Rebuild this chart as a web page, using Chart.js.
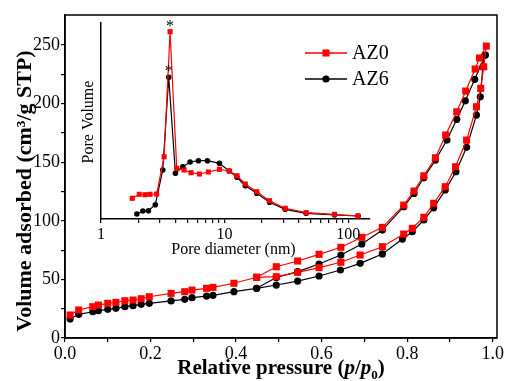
<!DOCTYPE html>
<html>
<head>
<meta charset="utf-8">
<script src="https://cdn.jsdelivr.net/npm/chart.js@4.4.0/dist/chart.umd.min.js"></script>
<style>
  html, body { margin: 0; padding: 0; background: #fff; }
  #wrap { position: relative; width: 505px; height: 381px; }
  #wrap canvas { position: absolute; left: 0; top: 0; }
</style>
</head>
<body>
<div id="wrap">
  <canvas id="isotherm" width="505" height="381"></canvas>
  <canvas id="poreSize" width="505" height="381"></canvas>
</div>
<script>
// N2 isotherms: adsorption branch (low -> high p/p0), then desorption branch back down
var az0AdsP = [0.012, 0.032, 0.065, 0.078, 0.100, 0.119, 0.140, 0.159, 0.178, 0.197, 0.248, 0.280, 0.297, 0.331, 0.346, 0.395, 0.448,
               0.494, 0.544, 0.594, 0.645, 0.690, 0.742, 0.792, 0.812, 0.839, 0.862, 0.889, 0.913, 0.939, 0.962, 0.972, 0.979, 0.985];
var az0AdsV = [19.6, 23.9, 26.7, 28.1, 29.6, 30.4, 31.8, 32.4, 33.5, 35.2, 38.1, 39.5, 40.9, 42.4, 43.2, 46.7, 51.8,
               52.3, 56.0, 60.0, 64.6, 70.8, 77.9, 88.7, 93.6, 103.0, 114.9, 129.1, 146.1, 168.9, 197.3, 213.0, 231.4, 249.1];
var az0DesP = [0.969, 0.959, 0.937, 0.916, 0.890, 0.866, 0.839, 0.816, 0.792, 0.742, 0.694, 0.645, 0.594, 0.544, 0.494, 0.448];
var az0DesV = [238.9, 229.5, 210.7, 193.0, 173.2, 153.8, 138.4, 125.4, 113.4, 94.4, 85.9, 77.4, 71.4, 65.7, 60.8, 51.8];

var az6AdsP = [0.012, 0.032, 0.065, 0.078, 0.100, 0.119, 0.140, 0.159, 0.178, 0.197, 0.248, 0.280, 0.297, 0.331, 0.346, 0.395, 0.448,
               0.494, 0.544, 0.594, 0.644, 0.690, 0.742, 0.789, 0.812, 0.839, 0.862, 0.889, 0.914, 0.939, 0.962, 0.971, 0.977, 0.983];
var az6AdsV = [16.2, 20.2, 22.4, 23.3, 24.5, 25.3, 26.7, 27.6, 28.7, 29.6, 31.6, 33.0, 34.4, 35.8, 36.4, 39.5, 42.4,
               45.2, 48.6, 52.9, 58.0, 63.7, 71.7, 84.4, 90.7, 100.7, 111.1, 126.2, 141.9, 162.7, 190.2, 205.8, 231.4, 241.4];
var az6DesP = [0.958, 0.936, 0.916, 0.893, 0.866, 0.839, 0.816, 0.792, 0.742, 0.694, 0.645, 0.594, 0.544, 0.494, 0.448];
var az6DesV = [220.7, 202.4, 186.6, 168.9, 151.8, 136.7, 123.4, 112.0, 92.1, 80.2, 70.8, 63.1, 56.6, 51.6, 42.4];

// BJH pore size distribution (arbitrary units)
var az0PoreD = [1.79, 2.04, 2.27, 2.49, 2.82, 3.24, 3.62, 4.10, 4.70, 5.35, 6.25, 7.39, 9.08, 10.9, 12.6, 14.7, 18.2, 23.1, 30.9, 45.7, 77.5, 120];
var az0PoreV = [20.7, 24.7, 24.3, 24.7, 25.0, 62.3, 187.3, 50.7, 49.0, 46.3, 45.0, 47.0, 49.7, 48.0, 43.3, 35.0, 27.3, 18.3, 10.7, 6.3, 4.7, 3.0];
var az6PoreD = [1.95, 2.18, 2.42, 2.75, 3.16, 3.53, 4.00, 4.59, 5.26, 6.14, 7.26, 9.08, 10.9, 12.6, 14.7, 18.2, 23.1, 30.9, 45.7, 77.5, 120];
var az6PoreV = [5.0, 8.0, 8.3, 14.3, 49.0, 141.7, 45.7, 52.3, 57.0, 58.3, 58.3, 55.7, 48.0, 41.7, 33.3, 25.7, 16.7, 9.7, 5.7, 4.0, 3.0];

var pressureTicks = [0, 0.1, 0.2, 0.3, 0.4, 0.5, 0.6, 0.7, 0.8, 0.9, 1.0];
var volumeTicks = [0, 25, 50, 75, 100, 125, 150, 175, 200, 225, 250];
var diameterTicks = [1, 2, 3, 4, 5, 6, 7, 8, 9, 10, 20, 30, 40, 50, 60, 70, 80, 90, 100];

var SERIF = "'Liberation Serif', 'Times New Roman', serif";
var RED = '#ff0000';
var BLACK = '#000000';

function toPoints(xs, ys) {
    return xs.map(function (x, i) { return { x: x, y: ys[i] }; });
}

function fixedTicks(values) {
    return function (scale) {
        scale.ticks = values.map(function (v) { return { value: v }; });
    };
}

// box around the plot area
var frame = {
    id: 'frame',
    afterDraw: function (chart) {
        var a = chart.chartArea, ctx = chart.ctx;
        ctx.save();
        ctx.strokeStyle = BLACK;
        ctx.lineWidth = 1.5;
        ctx.strokeRect(a.left, a.top, a.right - a.left, a.bottom - a.top);
        ctx.restore();
    }
};

// axis titles, p/p0 needs italics so it is drawn piece by piece
var isoTitles = {
    id: 'isoTitles',
    afterDraw: function (chart) {
        var a = chart.chartArea, ctx = chart.ctx;
        ctx.save();
        ctx.fillStyle = BLACK;
        ctx.textBaseline = 'alphabetic';

        var parts = [
            { t: 'Relative pressure (', f: 'bold 21px ' + SERIF, dy: 0 },
            { t: 'p', f: 'italic bold 21px ' + SERIF, dy: 0 },
            { t: '/', f: 'bold 21px ' + SERIF, dy: 0 },
            { t: 'p', f: 'italic bold 21px ' + SERIF, dy: 0 },
            { t: '0', f: 'bold 13px ' + SERIF, dy: 5 },
            { t: ')', f: 'bold 21px ' + SERIF, dy: 0 }
        ];
        var total = 0;
        parts.forEach(function (p) { ctx.font = p.f; p.w = ctx.measureText(p.t).width; total += p.w; });
        var x = (a.left + a.right) / 2 - total / 2;
        parts.forEach(function (p) {
            ctx.font = p.f;
            ctx.fillText(p.t, x, 374 + p.dy);
            x += p.w;
        });

        ctx.translate(25, 191);
        ctx.rotate(-Math.PI / 2);
        ctx.font = 'bold 22px ' + SERIF;
        ctx.textAlign = 'center';
        ctx.textBaseline = 'middle';
        ctx.fillText('Volume adsorbed (cm\u00b3/g STP)', 0, 0);
        ctx.restore();
    }
};

// legend: line with marker in the middle, like the plotted series
var legendKey = {
    id: 'legendKey',
    afterDraw: function (chart) {
        var a = chart.chartArea, ctx = chart.ctx;
        ctx.save();
        chart.data.datasets.forEach(function (ds, i) {
            var y = a.top + 38 + i * 26;
            var x0 = a.right - 192, x1 = a.right - 150, xm = (x0 + x1) / 2;
            ctx.strokeStyle = ds.borderColor;
            ctx.lineWidth = 1.3;
            ctx.beginPath();
            ctx.moveTo(x0, y);
            ctx.lineTo(x1, y);
            ctx.stroke();
            ctx.fillStyle = ds.borderColor;
            if (ds.pointStyle === 'circle') {
                ctx.beginPath();
                ctx.arc(xm, y, ds.pointRadius, 0, Math.PI * 2);
                ctx.fill();
            } else {
                var s = ds.pointRadius * Math.SQRT1_2;
                ctx.fillRect(xm - s, y - s, 2 * s, 2 * s);
            }
            ctx.fillStyle = BLACK;
            ctx.font = '20px ' + SERIF;
            ctx.textBaseline = 'middle';
            ctx.fillText(ds.label, x1 + 5, y + 1);
        });
        ctx.restore();
    }
};

new Chart(document.getElementById('isotherm'), {
    type: 'line',
    data: {
        datasets: [{
            label: 'AZ0',
            data: toPoints(az0AdsP.concat(az0DesP), az0AdsV.concat(az0DesV)),
            borderColor: RED,
            backgroundColor: RED,
            borderWidth: 1.2,
            pointStyle: 'rect',
            pointRadius: 5,
            pointBorderWidth: 0
        }, {
            label: 'AZ6',
            data: toPoints(az6AdsP.concat(az6DesP), az6AdsV.concat(az6DesV)),
            borderColor: BLACK,
            backgroundColor: BLACK,
            borderWidth: 1.2,
            pointStyle: 'circle',
            pointRadius: 3.6,
            pointBorderWidth: 0
        }]
    },
    options: {
        responsive: false,
        animation: false,
        events: [],
        layout: { padding: { left: 0, top: 15, right: 2, bottom: 0 } },
        plugins: { legend: { display: false }, tooltip: { enabled: false } },
        scales: {
            x: {
                type: 'linear',
                min: 0,
                max: 1.01,
                afterBuildTicks: fixedTicks(pressureTicks),
                afterFit: function (scale) { scale.height = 43; },
                grid: { drawOnChartArea: false, tickLength: 4, color: BLACK, lineWidth: 1.2 },
                border: { color: BLACK, width: 1.5 },
                ticks: {
                    color: BLACK,
                    padding: 1,
                    maxRotation: 0,
                    autoSkip: false,
                    font: { family: SERIF, size: 18 },
                    callback: function (v) { return Math.round(v * 10) % 2 === 0 ? v.toFixed(1) : ''; }
                }
            },
            y: {
                min: 0,
                max: 275.6,
                afterBuildTicks: fixedTicks(volumeTicks),
                afterFit: function (scale) { scale.width = 65; },
                grid: { drawOnChartArea: false, tickLength: 4, color: BLACK, lineWidth: 1.2 },
                border: { color: BLACK, width: 1.5 },
                ticks: {
                    color: BLACK,
                    padding: 1,
                    autoSkip: false,
                    font: { family: SERIF, size: 18 },
                    callback: function (v) { return v % 50 === 0 ? String(v) : ''; }
                }
            }
        }
    },
    plugins: [frame, isoTitles, legendKey]
});

// inset titles and the * marks over each peak
var poreTitles = {
    id: 'poreTitles',
    afterDraw: function (chart) {
        var a = chart.chartArea, ctx = chart.ctx;
        ctx.save();
        ctx.fillStyle = BLACK;
        ctx.font = '16px ' + SERIF;
        ctx.textAlign = 'center';
        ctx.textBaseline = 'middle';
        ctx.fillText('Pore diameter (nm)', (a.left + a.right) / 2 - 2, a.bottom + 31);

        chart.data.datasets.forEach(function (ds, i) {
            var vals = ds.data.map(function (p) { return p.y; });
            var k = vals.indexOf(Math.max.apply(null, vals));
            var pt = chart.getDatasetMeta(i).data[k];
            ctx.font = '16px ' + SERIF;
            ctx.textBaseline = 'alphabetic';
            ctx.fillText('*', pt.x, pt.y - 1);
        });

        ctx.translate(a.left - 12, (a.top + a.bottom) / 2 + 1);
        ctx.rotate(-Math.PI / 2);
        ctx.font = '16px ' + SERIF;
        ctx.textBaseline = 'middle';
        ctx.fillText('Pore Volume', 0, 0);
        ctx.restore();
    }
};

new Chart(document.getElementById('poreSize'), {
    type: 'line',
    data: {
        datasets: [{
            label: 'AZ0',
            data: toPoints(az0PoreD, az0PoreV),
            borderColor: RED,
            backgroundColor: RED,
            borderWidth: 1.2,
            pointStyle: 'rect',
            pointRadius: 3.6,
            pointBorderWidth: 0
        }, {
            label: 'AZ6',
            data: toPoints(az6PoreD, az6PoreV),
            borderColor: BLACK,
            backgroundColor: BLACK,
            borderWidth: 1.2,
            pointStyle: 'circle',
            pointRadius: 2.8,
            pointBorderWidth: 0
        }]
    },
    options: {
        responsive: false,
        animation: false,
        events: [],
        layout: { padding: { left: 0, top: 23, right: 135, bottom: 0 } },
        plugins: { legend: { display: false }, tooltip: { enabled: false } },
        scales: {
            x: {
                type: 'logarithmic',
                min: 1,
                max: 150,
                afterBuildTicks: fixedTicks(diameterTicks),
                afterFit: function (scale) { scale.height = 162; },
                grid: { drawOnChartArea: false, tickLength: 4, color: BLACK, lineWidth: 1.2 },
                border: { color: BLACK, width: 1.5 },
                ticks: {
                    color: BLACK,
                    padding: 2,
                    maxRotation: 0,
                    autoSkip: false,
                    font: { family: SERIF, size: 16 },
                    callback: function (v) { return [1, 10, 100].indexOf(v) >= 0 ? String(v) : ''; }
                }
            },
            y: {
                min: 0,
                max: 196,
                afterFit: function (scale) { scale.width = 101; },
                grid: { display: false, drawTicks: false },
                border: { color: BLACK, width: 1.5 },
                ticks: { display: false }
            }
        }
    },
    plugins: [poreTitles]
});
</script>
</body>
</html>
